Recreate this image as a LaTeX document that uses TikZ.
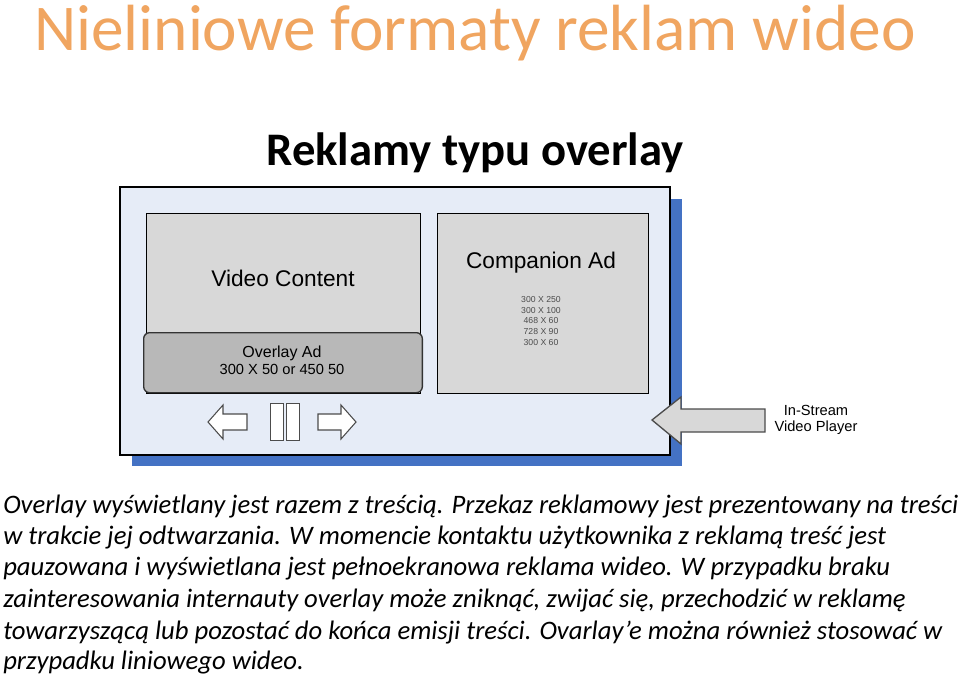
\documentclass[tikz,border=0pt]{standalone}
\usepackage{fontspec}
\setmainfont{Carlito}
\setsansfont{Liberation Sans}
\definecolor{ttl}{HTML}{F0A560}
\definecolor{frame}{HTML}{E6ECF7}
\definecolor{shadow}{HTML}{4472C4}
\definecolor{boxg}{HTML}{D8D8D8}
\definecolor{ovl}{HTML}{B8B8B8}
\begin{document}
\begin{tikzpicture}[x=0.75pt,y=-0.75pt,
  gbox/.style={draw=black,line width=1pt,fill=boxg},
  ctrl/.style={draw=black!70,fill=white,line width=0.8pt},
  body/.style={anchor=west,inner sep=0pt,font=\fontsize{20}{24}\selectfont\itshape}]
\useasboundingbox (0,0) rectangle (960,678);
\node[anchor=center,text=ttl,font=\fontsize{49}{58}\selectfont] (title) at (475,33) {Nieliniowe formaty reklam wideo};
\node[anchor=center,font=\fontsize{35}{40}\selectfont\bfseries] (sub) at (475,153) {Reklamy typu overlay};
% player
\fill[shadow] (132,199) rectangle (682,466);
\draw[fill=frame,line width=1pt] (120,187) rectangle (670,455);
\node[gbox,minimum width=205.5pt,minimum height=135pt,anchor=north west,inner sep=0pt] (vc) at (146,213) {};
\node[font=\sffamily\fontsize{17}{20}\selectfont] (vct) at (283,278) {Video Content};
\node[draw=black!80,fill=ovl,rounded corners=4.5pt,minimum width=209pt,minimum height=45pt,anchor=north west,inner sep=0pt,line width=1pt] (ov) at (143,332) {};
\node[font=\sffamily\fontsize{12}{14}\selectfont,align=center] (ovt) at (282,360) {Overlay Ad\\[-1pt]{\fontsize{11}{13}\selectfont 300 X 50 or 450 50}};
\node[gbox,minimum width=158pt,minimum height=135pt,anchor=north west,inner sep=0pt] (ca) at (437,213) {};
\node[font=\sffamily\fontsize{17}{20}\selectfont] (cat) at (541,263) {Companion Ad};
\node[font=\sffamily\fontsize{6.5}{8}\selectfont,align=center,text=black!70] (cal) at (541,321) {300 X 250\\300 X 100\\468 X 60\\728 X 90\\300 X 60};
% controls
\draw[ctrl] (208,422) -- (223,405) -- (223,414) -- (247,414) -- (247,430) -- (223,430) -- (223,439) -- cycle;
\node[ctrl,minimum width=9.75pt,minimum height=27.75pt,inner sep=0pt] (p1) at (277,422) {};
\node[ctrl,minimum width=9.75pt,minimum height=27.75pt,inner sep=0pt] (p2) at (293,422) {};
\draw[ctrl] (356,422) -- (341,405) -- (341,414) -- (318,414) -- (318,430) -- (341,430) -- (341,439) -- cycle;
% big arrow
\draw[draw=black!70,fill=boxg,line width=1pt] (652,420) -- (681,397) -- (681,409) -- (765,409) -- (765,432) -- (681,432) -- (681,444) -- cycle;
\node[font=\sffamily\fontsize{11}{12}\selectfont,align=center] (isv) at (816,420) {In-Stream\\Video Player};
% body text
\node[body] (l1) at (3,507) {Overlay wyświetlany jest razem z treścią. Przekaz reklamowy jest prezentowany na treści};
\node[body] (l2) at (3,538) {w trakcie jej odtwarzania. W momencie kontaktu użytkownika z reklamą treść jest};
\node[body] (l3) at (3,569) {pauzowana i wyświetlana jest pełnoekranowa reklama wideo. W przypadku braku};
\node[body] (l4) at (3,601) {zainteresowania internauty overlay może zniknąć, zwijać się, przechodzić w reklamę};
\node[body] (l5) at (3,633) {towarzyszącą lub pozostać do końca emisji treści. Ovarlay\symbol{39}e można również stosować w};
\node[body] (l6) at (3,663) {przypadku liniowego wideo.};
\end{tikzpicture}
\end{document}
